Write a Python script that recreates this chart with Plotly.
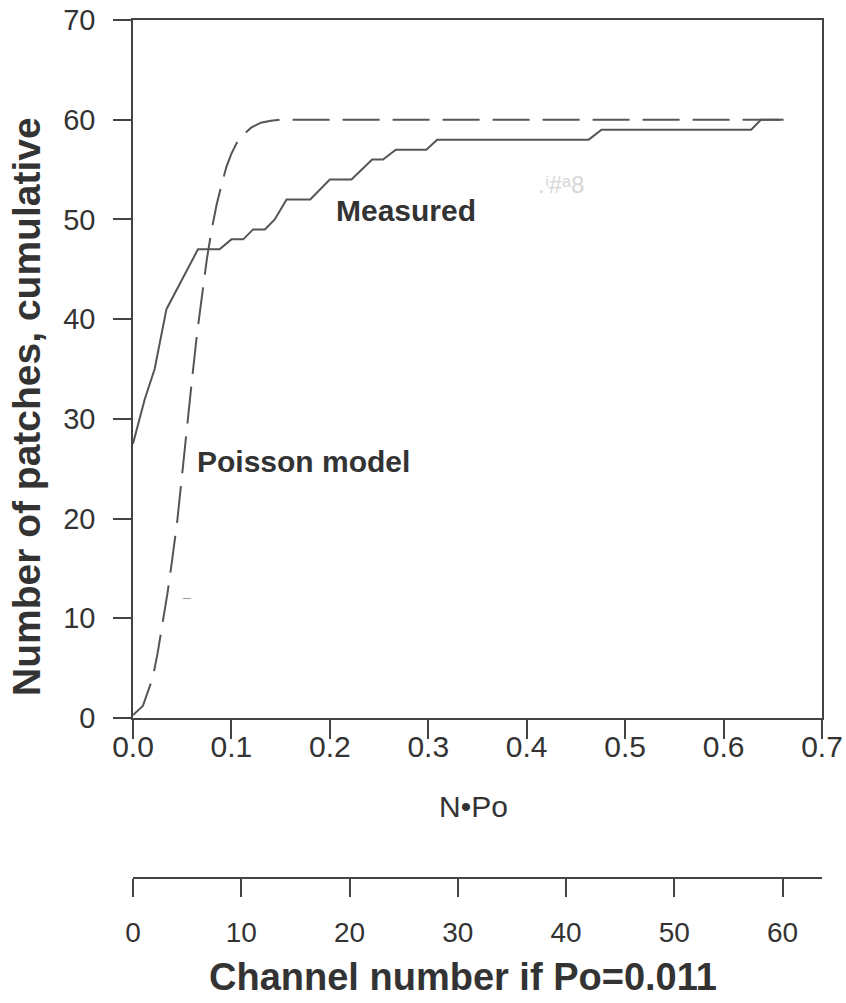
import plotly.graph_objects as go

# Measured cumulative patches
meas_x = [0.0, 0.012, 0.022, 0.034, 0.066, 0.088, 0.100, 0.112, 0.122, 0.134, 0.144,
          0.156, 0.180, 0.200, 0.222, 0.243, 0.254, 0.267, 0.298, 0.309, 0.463, 0.476,
          0.628, 0.638, 0.661]
meas_y = [27.5, 32, 35, 41, 47, 47, 48, 48, 49, 49, 50,
          52, 52, 54, 54, 56, 56, 57, 57, 58, 58, 59,
          59, 60, 60]

# Poisson model curve
pois_x = [0.0, 0.010, 0.020, 0.025, 0.030, 0.035, 0.040, 0.045, 0.050, 0.055, 0.060,
          0.065, 0.070, 0.075, 0.080, 0.085, 0.090, 0.095, 0.100, 0.105, 0.110, 0.120,
          0.130, 0.140, 0.150, 0.661]
pois_y = [0.3, 1.2, 4.0, 6.5, 9.5, 12.5, 16.0, 19.8, 24.5, 29.5, 34.0,
          38.5, 42.5, 46.0, 49.0, 51.5, 53.5, 55.3, 56.6, 57.6, 58.3, 59.2,
          59.7, 59.9, 60.0, 60.0]

x_ticks = [0.0, 0.1, 0.2, 0.3, 0.4, 0.5, 0.6, 0.7]
x_ticklabels = ["0.0", "0.1", "0.2", "0.3", "0.4", "0.5", "0.6", "0.7"]
y_ticks = [0, 10, 20, 30, 40, 50, 60, 70]
ch_ticks = [0, 10, 20, 30, 40, 50, 60]
Po = 0.011

FONT = "Liberation Sans, Arial, sans-serif"
TXT = "#333333"
LINE = "#555555"
AX = "#444444"

fig = go.Figure()
fig.add_trace(go.Scatter(x=pois_x, y=pois_y, mode="lines",
                         line=dict(color=LINE, width=2, dash="37px,13px"),
                         showlegend=False, hoverinfo="skip"))
fig.add_trace(go.Scatter(x=meas_x, y=meas_y, mode="lines",
                         line=dict(color=LINE, width=2),
                         showlegend=False, hoverinfo="skip"))
# invisible trace to activate the channel-number axis
fig.add_trace(go.Scatter(x=[0], y=[0], xaxis="x2", yaxis="y", mode="markers",
                         marker=dict(opacity=0), showlegend=False, hoverinfo="skip"))

W, H = 846, 1003
L, R, T, B = 133, 24, 20, 125
plot_h = H - T - B
y_bottom_px = 718
ydom0 = (H - B - y_bottom_px) / plot_h

def px_x(px):
    return (px - L) / (W - L - R)

def px_y(py):
    return (H - B - py) / plot_h

fig.update_layout(
    width=W, height=H,
    margin=dict(l=L, r=R, t=T, b=B, autoexpand=False),
    paper_bgcolor="white", plot_bgcolor="white",
    font=dict(family=FONT, color=TXT),
    xaxis=dict(range=[0, 0.7], tickvals=x_ticks, ticktext=x_ticklabels,
               showgrid=False, zeroline=False, showline=True, linecolor=AX,
               linewidth=1.5, mirror=True, ticks="outside", ticklen=19,
               tickwidth=1.5, tickcolor=AX, tickfont=dict(size=30, color=TXT),
               anchor="y", domain=[0, 1], ticklabelstandoff=-18,
               automargin=False),
    yaxis=dict(range=[0, 70], tickvals=y_ticks, showgrid=False, zeroline=False,
               showline=True, linecolor=AX, linewidth=1.5, mirror=True,
               ticks="outside", ticklen=18, tickwidth=1.5, tickcolor=AX,
               tickfont=dict(size=29, color=TXT), domain=[ydom0, 1],
               ticklabelstandoff=12, automargin=False),
    xaxis2=dict(range=[0, 0.7 / Po], tickvals=ch_ticks, overlaying="x",
                anchor="free", position=0, showgrid=False, zeroline=False,
                showline=True, linecolor=AX, linewidth=1.5, ticks="outside",
                ticklen=18, tickwidth=1.5, tickcolor=AX,
                tickfont=dict(size=28, color=TXT), ticklabelstandoff=12,
                automargin=False),
)

ann = [
    dict(text="<b>Number of patches, cumulative</b>", x=px_x(26), y=px_y(407),
         xref="paper", yref="paper", textangle=-90, showarrow=False,
         xanchor="center", yanchor="middle", font=dict(size=39, color=TXT)),
    dict(text="<b>Channel number if Po=0.011</b>", x=px_x(463), y=px_y(977),
         xref="paper", yref="paper", showarrow=False, xanchor="center",
         yanchor="middle", font=dict(size=38, color=TXT)),
    dict(text="N•Po", x=px_x(473), y=px_y(806), xref="paper", yref="paper",
         showarrow=False, xanchor="center", yanchor="middle",
         font=dict(size=30, color=TXT)),
    dict(text="<b>Measured</b>", x=0.204, y=50.9, xref="x", yref="y",
         xanchor="left", yanchor="middle", showarrow=False,
         font=dict(size=30, color=TXT)),
    dict(text="<b>Poisson model</b>", x=0.063, y=25.7, xref="x", yref="y",
         xanchor="left", yanchor="middle", showarrow=False,
         font=dict(size=30, color=TXT)),
    dict(text=".ⁱ#ᵃ8", x=0.435, y=53.5, xref="x", yref="y", showarrow=False,
         xanchor="center", yanchor="middle",
         font=dict(size=24, color="#d6d6d6")),
    dict(text="–", x=0.055, y=12.1, xref="x", yref="y", showarrow=False,
         xanchor="center", yanchor="middle",
         font=dict(size=14, color="#999999")),
]
fig.update_layout(annotations=ann)

fig.write_html("out.html")
